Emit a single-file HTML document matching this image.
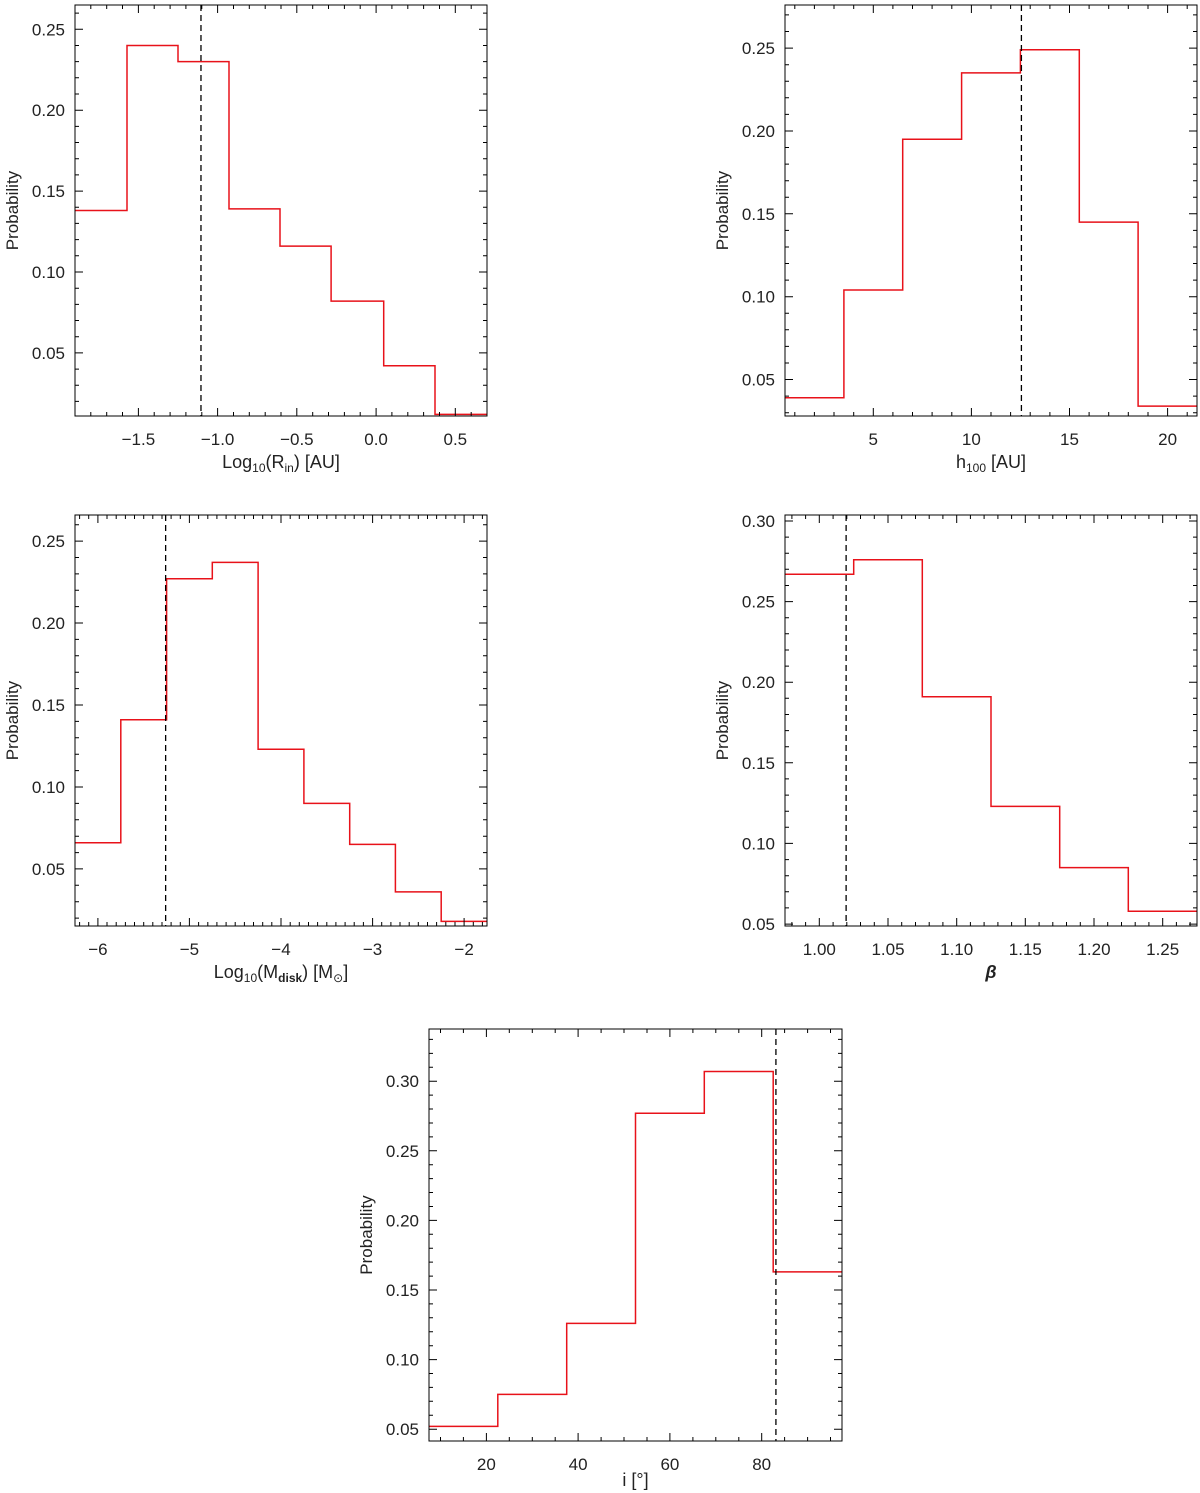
<!DOCTYPE html>
<html><head><meta charset="utf-8"><style>
body{margin:0;background:#fff;}
svg{display:block;font-family:"Liberation Sans",sans-serif;}
</style></head><body>
<svg id="chart" width="1200" height="1493" viewBox="0 0 1200 1493" xmlns="http://www.w3.org/2000/svg"></svg>
<script>
// Panel 1: Log10(R_in)
const p1Edges = [-1.9, -1.572, -1.25, -0.928, -0.606, -0.284, 0.048, 0.372, 0.7];
const p1Values = [0.138, 0.240, 0.230, 0.139, 0.116, 0.082, 0.042, 0.012];
const p1Best = -1.105;
const p1XTicks = [-1.5, -1.0, -0.5, 0.0, 0.5];
const p1XLabels = ["\u22121.5", "\u22121.0", "\u22120.5", "0.0", "0.5"];
const p1YTicks = [0.05, 0.10, 0.15, 0.20, 0.25];
// Panel 2: h100
const p2Edges = [0.5, 3.5, 6.5, 9.5, 12.5, 15.5, 18.5, 21.5];
const p2Values = [0.039, 0.104, 0.195, 0.235, 0.249, 0.145, 0.034];
const p2Best = 12.55;
const p2XTicks = [5, 10, 15, 20];
const p2XLabels = ["5", "10", "15", "20"];
const p2YTicks = [0.05, 0.10, 0.15, 0.20, 0.25];
// Panel 3: Log10(M_disk)
const p3Edges = [-6.25, -5.75, -5.25, -4.75, -4.25, -3.75, -3.25, -2.75, -2.25, -1.75];
const p3Values = [0.066, 0.141, 0.227, 0.237, 0.123, 0.090, 0.065, 0.036, 0.018];
const p3Best = -5.26;
const p3XTicks = [-6, -5, -4, -3, -2];
const p3XLabels = ["\u22126", "\u22125", "\u22124", "\u22123", "\u22122"];
const p3YTicks = [0.05, 0.10, 0.15, 0.20, 0.25];
// Panel 4: beta
const p4Edges = [0.975, 1.025, 1.075, 1.125, 1.175, 1.225, 1.275];
const p4Values = [0.267, 0.276, 0.191, 0.123, 0.085, 0.058];
const p4Best = 1.0195;
const p4XTicks = [1.00, 1.05, 1.10, 1.15, 1.20, 1.25];
const p4XLabels = ["1.00", "1.05", "1.10", "1.15", "1.20", "1.25"];
const p4YTicks = [0.05, 0.10, 0.15, 0.20, 0.25, 0.30];
// Panel 5: inclination
const p5Edges = [7.5, 22.5, 37.5, 52.5, 67.5, 82.5, 97.5];
const p5Values = [0.052, 0.075, 0.126, 0.277, 0.307, 0.163];
const p5Best = 83.1;
const p5XTicks = [20, 40, 60, 80];
const p5XLabels = ["20", "40", "60", "80"];
const p5YTicks = [0.05, 0.10, 0.15, 0.20, 0.25, 0.30];

const NS = "http://www.w3.org/2000/svg";
const svg = document.getElementById("chart");
function mk(tag, attrs, parent){
  const e = document.createElementNS(NS, tag);
  for (const k in attrs) e.setAttribute(k, attrs[k]);
  (parent || svg).appendChild(e);
  return e;
}

function panel(cfg){
  const g = mk("g", {});
  
  
  const {x0, x1, y0, y1, xmin, xmax, ymin, ymax} = cfg;
  const sx = v => x0 + (v - xmin) / (xmax - xmin) * (x1 - x0);
  const sy = v => y1 - (v - ymin) / (ymax - ymin) * (y1 - y0);
  let d = "";
  cfg.values.forEach((v, i) => {
    const a = Math.max(cfg.edges[i], xmin), b = Math.min(cfg.edges[i + 1], xmax);
    d += (i === 0 ? "M" : "L") + sx(a).toFixed(1) + "," + sy(v).toFixed(1) + "L" + sx(b).toFixed(1) + "," + sy(v).toFixed(1);
  });
  const h = mk("path", {d: d, fill: "none", stroke: "#e8121a", "stroke-width": 1.5}, g);
  
  
  const bl = mk("line", {x1: sx(cfg.best), x2: sx(cfg.best), y1: y0, y2: y1, stroke: "#000", "stroke-width": 1.3, "stroke-dasharray": "6,4"}, g);
  
  
  const fr = mk("rect", {x: x0, y: y0, width: x1 - x0, height: y1 - y0, fill: "none", stroke: "#000", "stroke-width": 1}, g);
  
  
  let td = "";
  const startX = Math.ceil(xmin / cfg.xMinor - 1e-6) * cfg.xMinor;
  for (let v = startX; v <= xmax + 1e-9; v += cfg.xMinor){
    const isMaj = Math.abs(v / cfg.xMajor - Math.round(v / cfg.xMajor)) < 1e-4;
    const L = isMaj ? 8 : 4, X = sx(v).toFixed(1);
    td += `M${X},${y1}v${-L}M${X},${y0}v${L}`;
  }
  const startY = Math.ceil(ymin / 0.01 - 1e-6) * 0.01;
  for (let v = startY; v <= ymax + 1e-9; v += 0.01){
    const isMaj = Math.abs(v / 0.05 - Math.round(v / 0.05)) < 1e-4;
    const L = isMaj ? 8 : 4, Y = sy(v).toFixed(1);
    td += `M${x0},${Y}h${L}M${x1},${Y}h${-L}`;
  }
  const tk = mk("path", {d: td, stroke: "#000", "stroke-width": 1, fill: "none"}, g);
  
  
  cfg.xTicks.forEach((v, i) => {
    const t = mk("text", {x: sx(v), y: y1 + 29, "text-anchor": "middle", "font-size": 17, fill: "#222"}, g);
    t.textContent = cfg.xLabels[i];
    
    
  });
  cfg.yTicks.forEach(v => {
    const t = mk("text", {x: x0 - 10, y: sy(v) + 6, "text-anchor": "end", "font-size": 17, fill: "#222"}, g);
    t.textContent = v.toFixed(2);
    
    
  });
  const yt = mk("text", {x: 0, y: 0, "text-anchor": "middle", "font-size": 17, fill: "#222", transform: `translate(${x0 - 57},${(y0 + y1) / 2}) rotate(-90)`}, g);
  yt.textContent = "Probability";
  
  
  const xt = mk("text", {x: (x0 + x1) / 2, y: y1 + cfg.titleOff, "text-anchor": "middle", "font-size": 18, fill: "#222"}, g);
  xt.innerHTML = cfg.xTitle;
  
  
}

panel({name: "panel-rin", x0: 75, x1: 487, y0: 5, y1: 416, xmin: -1.9, xmax: 0.7, ymin: 0.011, ymax: 0.265, titleOff: 52,
  edges: p1Edges, values: p1Values, best: p1Best, xTicks: p1XTicks, xLabels: p1XLabels, yTicks: p1YTicks, xMajor: 0.5, xMinor: 0.1,
  xTitle: 'Log<tspan font-size="12" dy="4">10</tspan><tspan dy="-4">(R</tspan><tspan font-size="12" dy="4">in</tspan><tspan dy="-4">)  [AU]</tspan>'});
panel({name: "panel-h100", x0: 785, x1: 1197, y0: 5, y1: 416, xmin: 0.5, xmax: 21.5, ymin: 0.028, ymax: 0.276, titleOff: 52,
  edges: p2Edges, values: p2Values, best: p2Best, xTicks: p2XTicks, xLabels: p2XLabels, yTicks: p2YTicks, xMajor: 5, xMinor: 1,
  xTitle: 'h<tspan font-size="12" dy="4">100</tspan><tspan dy="-4">  [AU]</tspan>'});
panel({name: "panel-mdisk", x0: 75, x1: 487, y0: 515, y1: 926, xmin: -6.25, xmax: -1.75, ymin: 0.0152, ymax: 0.2659, titleOff: 52,
  edges: p3Edges, values: p3Values, best: p3Best, xTicks: p3XTicks, xLabels: p3XLabels, yTicks: p3YTicks, xMajor: 1, xMinor: 0.1,
  xTitle: 'Log<tspan font-size="12" dy="4">10</tspan><tspan dy="-4">(M</tspan><tspan font-size="12" font-weight="bold" dy="4">disk</tspan><tspan dy="-4">)  [M</tspan><tspan font-size="12" dy="4">\u2299</tspan><tspan dy="-4">]</tspan>'});
panel({name: "panel-beta", x0: 785, x1: 1197, y0: 515, y1: 926, xmin: 0.975, xmax: 1.275, ymin: 0.0488, ymax: 0.3037, titleOff: 52,
  edges: p4Edges, values: p4Values, best: p4Best, xTicks: p4XTicks, xLabels: p4XLabels, yTicks: p4YTicks, xMajor: 0.05, xMinor: 0.01,
  xTitle: '<tspan font-style="italic" font-weight="bold">\u03b2</tspan>'});
panel({name: "panel-inclination", x0: 429, x1: 842, y0: 1029, y1: 1441, xmin: 7.5, xmax: 97.5, ymin: 0.0415, ymax: 0.3375, titleOff: 45,
  edges: p5Edges, values: p5Values, best: p5Best, xTicks: p5XTicks, xLabels: p5XLabels, yTicks: p5YTicks, xMajor: 20, xMinor: 5,
  xTitle: 'i  [\u00b0]'});
</script>
</body></html>
